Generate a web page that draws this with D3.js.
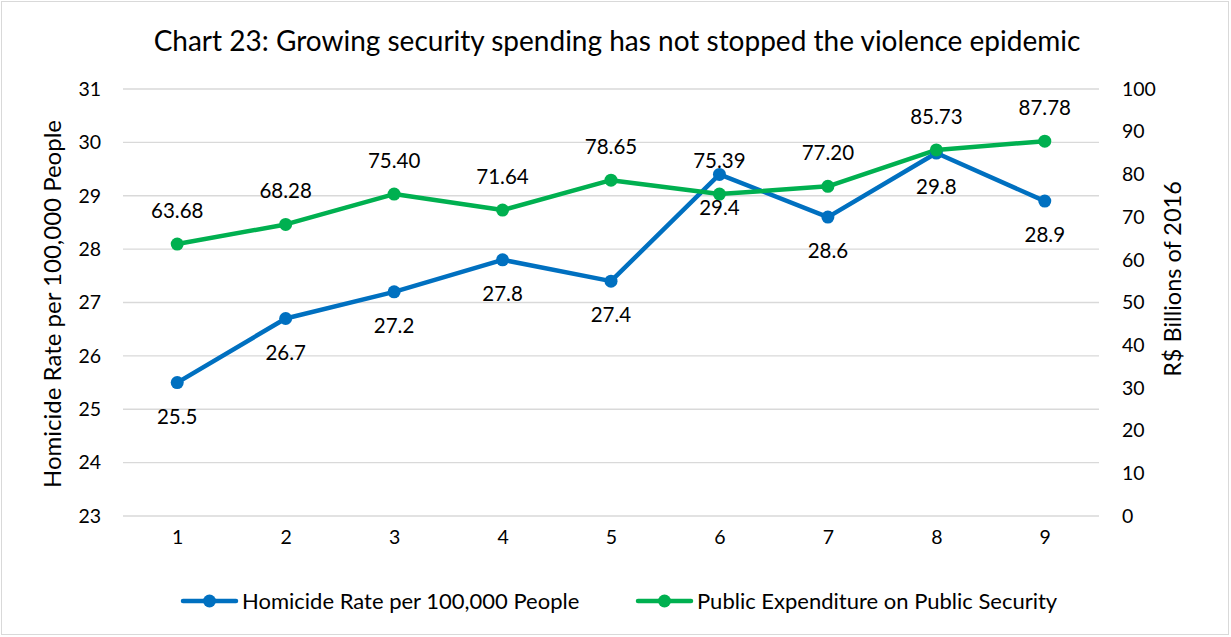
<!DOCTYPE html>
<html>
<head>
<meta charset="utf-8">
<script src="https://cdn.jsdelivr.net/npm/d3@7"></script>
<style>
  html, body { margin: 0; padding: 0; background: #fff; }
  svg text { font-family: Lato, "Open Sans", sans-serif; fill: #000; }
</style>
</head>
<body>
<svg id="chart" width="1231" height="637"></svg>
<script>
const categories = ["1", "2", "3", "4", "5", "6", "7", "8", "9"];
const homicideRate = [25.5, 26.7, 27.2, 27.8, 27.4, 29.4, 28.6, 29.8, 28.9];
const expenditure = [63.68, 68.28, 75.40, 71.64, 78.65, 75.39, 77.20, 85.73, 87.78];
const leftTicks = [23, 24, 25, 26, 27, 28, 29, 30, 31];
const rightTicks = [0, 10, 20, 30, 40, 50, 60, 70, 80, 90, 100];
const title = "Chart 23: Growing security spending has not stopped the violence epidemic";
const leftTitle = "Homicide Rate per 100,000 People";
const rightTitle = "R$ Billions of 2016";
const seriesNames = ["Homicide Rate per 100,000 People", "Public Expenditure on Public Security"];

(function draw() {
const blue = "#0070C0", green = "#00B050";
const svg = d3.select("#chart");

svg.append("rect").attr("x", 1.5).attr("y", 1.5).attr("width", 1227).attr("height", 633)
  .attr("fill", "#fff").attr("stroke", "#d9d9d9").attr("stroke-width", 1);

const pL = 123, pR = 1099, pT = 89, pB = 516;

const x = d3.scalePoint().domain(categories).range([pL, pR]).padding(0.5);
const yL = d3.scaleLinear().domain([23, 31]).range([pB, pT]);
const yR = d3.scaleLinear().domain([0, 100]).range([pB, pT]);

svg.append("g").selectAll("line").data(leftTicks).join("line")
  .attr("x1", pL).attr("x2", pR)
  .attr("y1", d => yL(d)).attr("y2", d => yL(d))
  .attr("stroke", "#d9d9d9").attr("stroke-width", 1.3);

const axL = svg.append("g").attr("transform", `translate(${pL},0)`)
  .call(d3.axisLeft(yL).tickValues(leftTicks).tickSize(0).tickPadding(22));
axL.select(".domain").remove();
axL.selectAll("text").attr("font-size", 19.5);

const axR = svg.append("g").attr("transform", `translate(${pR},0)`)
  .call(d3.axisRight(yR).tickValues(rightTicks).tickSize(0).tickPadding(23));
axR.select(".domain").remove();
axR.selectAll("text").attr("font-size", 19.5);

const axB = svg.append("g").attr("transform", `translate(0,${pB})`)
  .call(d3.axisBottom(x).tickSize(0).tickPadding(14));
axB.select(".domain").remove();
axB.selectAll("text").attr("font-size", 19.5);

svg.append("text").attr("x", 617).attr("y", 51).attr("text-anchor", "middle")
  .attr("font-size", 28).text(title);

svg.append("text").attr("transform", `translate(61,304) rotate(-90)`)
  .attr("text-anchor", "middle").attr("font-size", 24).text(leftTitle);
svg.append("text").attr("transform", `translate(1181,279) rotate(-90)`)
  .attr("text-anchor", "middle").attr("font-size", 23.5).text(rightTitle);

const lineL = d3.line().x((d, i) => x(categories[i])).y(d => yL(d));
const lineR = d3.line().x((d, i) => x(categories[i])).y(d => yR(d));

svg.append("path").datum(homicideRate).attr("d", lineL)
  .attr("fill", "none").attr("stroke", blue).attr("stroke-width", 4.5).attr("stroke-linejoin", "round");
svg.append("path").datum(expenditure).attr("d", lineR)
  .attr("fill", "none").attr("stroke", green).attr("stroke-width", 4.5).attr("stroke-linejoin", "round");

svg.append("g").selectAll("circle").data(homicideRate).join("circle")
  .attr("cx", (d, i) => x(categories[i])).attr("cy", d => yL(d)).attr("r", 6.5).attr("fill", blue);
svg.append("g").selectAll("circle").data(expenditure).join("circle")
  .attr("cx", (d, i) => x(categories[i])).attr("cy", d => yR(d)).attr("r", 6.5).attr("fill", green);

svg.append("g").selectAll("text").data(homicideRate).join("text")
  .attr("x", (d, i) => x(categories[i])).attr("y", d => yL(d) + 41)
  .attr("text-anchor", "middle").attr("font-size", 20.5).text(d => d.toFixed(1));
svg.append("g").selectAll("text").data(expenditure).join("text")
  .attr("x", (d, i) => x(categories[i])).attr("y", d => yR(d) - 26)
  .attr("text-anchor", "middle").attr("font-size", 20.5).text(d => d.toFixed(2));

const legend = [
  { name: seriesNames[0], color: blue, x: 183 },
  { name: seriesNames[1], color: green, x: 638 }
];
const lg = svg.append("g").selectAll("g").data(legend).join("g")
  .attr("transform", d => `translate(${d.x},601)`);
lg.append("line").attr("x1", 0).attr("x2", 53).attr("y1", 0).attr("y2", 0)
  .attr("stroke", d => d.color).attr("stroke-width", 4.5).attr("stroke-linecap", "round");
lg.append("circle").attr("cx", 26.5).attr("cy", 0).attr("r", 6.5).attr("fill", d => d.color);
lg.append("text").attr("x", 59).attr("y", 7.5).attr("font-size", 22).text(d => d.name);
})();
</script>
</body>
</html>
